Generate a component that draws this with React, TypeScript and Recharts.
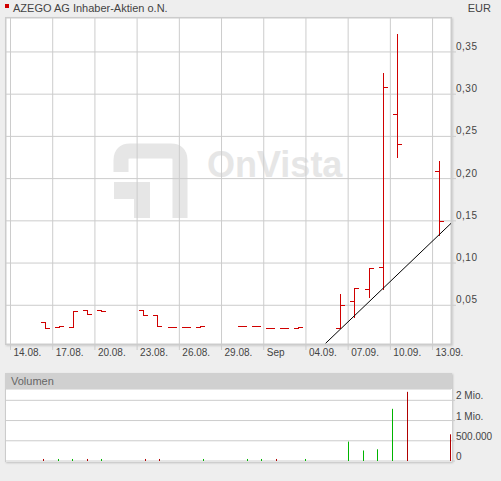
import { ComposedChart, Bar, Line, XAxis, YAxis, CartesianGrid } from 'recharts';

// trading days, counted in calendar days from 14.08.
const DAY_INDEX = [2, 3, 4, 5, 6, 9, 10, 11, 12, 13, 16, 17, 18, 19, 20, 23, 24, 25, 26, 27, 30];
const OPEN = [0.03, 0.024, 0.024, 0.0445, 0.044, 0.044, 0.039, 0.0243, 0.0243, 0.024, 0.0258, 0.0258, 0.0227, 0.0227, 0.0227, 0.0227, 0.0547, 0.0693, 0.095, 0.276, 0.2094];
const HIGH = [0.03, 0.0255, 0.043, 0.0445, 0.044, 0.044, 0.039, 0.0243, 0.0243, 0.0255, 0.0258, 0.0258, 0.0227, 0.0227, 0.0243, 0.0634, 0.07, 0.0938, 0.3247, 0.3713, 0.2205];
const LOW = [0.023, 0.024, 0.024, 0.0395, 0.043, 0.039, 0.025, 0.0243, 0.0243, 0.024, 0.0258, 0.0258, 0.0227, 0.0227, 0.0227, 0.0227, 0.0365, 0.0595, 0.0689, 0.2253, 0.1332];
const CLOSE = [0.023, 0.0255, 0.043, 0.0395, 0.043, 0.039, 0.025, 0.0243, 0.0243, 0.0255, 0.0258, 0.0258, 0.0227, 0.0227, 0.0243, 0.05, 0.07, 0.0938, 0.309, 0.2406, 0.1502];
const VOLUME = [50000, 50000, 50000, 50000, 50000, 50000, 50000, 0, 0, 50000, 50000, 50000, 50000, 0, 50000, 480000, 260000, 290000, 1290000, 1710000, 660000];

const DAY_TICKS = [0, 3, 6, 9, 12, 15, 18, 21, 24, 27, 30];
const DAY_TICK_LABELS = ['14.08.', '17.08.', '20.08.', '23.08.', '26.08.', '29.08.', 'Sep', '04.09.', '07.09.', '10.09.', '13.09.'];
const PRICE_TICKS = [0.05, 0.1, 0.15, 0.2, 0.25, 0.3, 0.35];
const PRICE_LABELS = ['0,05', '0,10', '0,15', '0,20', '0,25', '0,30', '0,35'];
const VOLUME_TICKS = [0, 500000, 1000000, 1500000];
const VOLUME_LABELS = ['0', '500.000', '1 Mio.', '2 Mio.'];

// trend line drawn on the price chart (day, price)
const TREND_DAYS = [22.4, 31.31];
const TREND_PRICES = [0.005, 0.147];

const BAR_OFFSET = 0.45;
const RED = '#d00000';
const FONT = '"Liberation Sans", Arial, sans-serif';

const ohlc = DAY_INDEX.map((d, i) => ({
  pos: d + BAR_OFFSET,
  open: OPEN[i],
  high: HIGH[i],
  low: LOW[i],
  close: CLOSE[i],
  volume: VOLUME[i],
  up: CLOSE[i] >= (i > 0 ? CLOSE[i - 1] : OPEN[i]),
}));

const trend = TREND_DAYS.map((d, i) => ({ pos: d, price: TREND_PRICES[i] }));

function OhlcShape(props: any) {
  const { x, y, width, height, payload } = props;
  const cx = Math.round(x + width / 2);
  const span = payload.high - payload.low;
  const toY = (v: number) => Math.round(span > 0 ? y + ((payload.high - v) / span) * height : y);
  const top = Math.round(y);
  const bottom = Math.round(y + (height || 0));
  const oy = toY(payload.open);
  const cy = toY(payload.close);
  return (
    <g>
      {bottom > top && <rect x={cx} y={top} width={1} height={bottom - top + 1} fill={RED} />}
      <rect x={cx - 4} y={oy} width={4} height={1} fill={RED} />
      <rect x={cx} y={cy} width={5} height={1} fill={RED} />
    </g>
  );
}

function VolumeShape(props: any) {
  const { x, y, width, height, payload } = props;
  if (!height || height <= 0) return null;
  return <rect x={Math.floor(x + width / 2)} y={y} width={1} height={height} fill={payload.up ? '#00b400' : '#b00000'} />;
}

function DayTick({ x, y, payload }: any) {
  const label = DAY_TICK_LABELS[DAY_TICKS.indexOf(payload.value)];
  return (
    <text x={x + 3} y={y + 6} fontSize={10} fill="#444" fontFamily={FONT}>
      {label}
    </text>
  );
}

function PriceTick({ x, y, payload }: any) {
  const label = PRICE_LABELS[PRICE_TICKS.indexOf(payload.value)];
  return (
    <text x={x} y={y - 2} fontSize={10} fill="#444" fontFamily={FONT} letterSpacing={0.5}>
      {label}
    </text>
  );
}

function VolumeTick({ x, y, payload }: any) {
  const label = VOLUME_LABELS[VOLUME_TICKS.indexOf(payload.value)];
  return (
    <text x={x + 1} y={y - 1} fontSize={10} fill="#444" fontFamily={FONT}>
      {label}
    </text>
  );
}

export default function App() {
  return (
    <div style={{ position: 'absolute', left: 0, top: 0, width: 501, height: 481, background: '#eeeeee', overflow: 'hidden', fontFamily: FONT }}>
      {/* panels */}
      <div style={{ position: 'absolute', left: 5, top: 17, width: 447, height: 328, boxSizing: 'border-box', background: '#fff', border: '1px solid #cccccc', boxShadow: '1px 1px 2px rgba(0,0,0,0.15)' }} />
      <div style={{ position: 'absolute', left: 5, top: 373, width: 447, height: 89, boxShadow: '1px 1px 2px rgba(0,0,0,0.2)' }}>
        <div style={{ height: 16, background: '#d0d0d0' }} />
        <div style={{ height: 73, background: '#fff', borderLeft: '1px solid #cccccc', boxSizing: 'border-box' }} />
      </div>

      {/* watermark and texts */}
      <svg width={501} height={481} style={{ position: 'absolute', left: 0, top: 0 }}>
        <path d="M121 172 V160 Q121 151 130 151 H171 Q180 151 180 160 V218" fill="none" stroke="#e6e6e6" strokeWidth={15} />
        <path d="M114 182 H150 V218 H134 V199 H114 Z" fill="#e6e6e6" />
        <text x={207} y={177} fontSize={36} fontWeight="bold" fill="#e6e6e6" fontFamily={FONT}>OnVista</text>
        <rect x={5} y={4} width={4} height={4} fill={RED} />
        <text x={13} y={12} fontSize={11} fill="#444" fontFamily={FONT}>AZEGO AG Inhaber-Aktien o.N.</text>
        <text x={491} y={12} fontSize={11} fill="#444" fontFamily={FONT} textAnchor="end">EUR</text>
        <text x={11} y={385} fontSize={11} fill="#666" fontFamily={FONT}>Volumen</text>
      </svg>

      <div style={{ position: 'absolute', left: 0, top: 0 }}>
        <ComposedChart width={501} height={370} data={ohlc} margin={{ top: 18, right: 0, bottom: 6, left: 6 }}>
          <CartesianGrid stroke="#cccccc" />
          <XAxis
            type="number"
            dataKey="pos"
            domain={[-0.32, 31.31]}
            allowDataOverflow
            ticks={DAY_TICKS}
            interval={0}
            height={20}
            axisLine={false}
            tickLine={{ stroke: '#cccccc' }}
            tickSize={6}
            tickMargin={0}
            tick={<DayTick />}
          />
          <YAxis
            orientation="right"
            width={50}
            domain={[0.00414, 0.3902]}
            allowDataOverflow
            ticks={PRICE_TICKS}
            interval={0}
            axisLine={false}
            tickLine={{ stroke: '#cccccc' }}
            tickSize={5}
            tickMargin={0}
            tick={<PriceTick />}
          />
          <Bar dataKey={(d: any) => [d.low, d.high]} barSize={8} shape={OhlcShape} isAnimationActive={false} />
          <Line data={trend} dataKey="price" type="linear" stroke="#000" strokeWidth={1} dot={false} isAnimationActive={false} />
        </ComposedChart>
      </div>

      <div style={{ position: 'absolute', left: 0, top: 389 }}>
        <ComposedChart width={501} height={80} data={ohlc} margin={{ top: 0, right: 0, bottom: 8, left: 6 }}>
          <CartesianGrid vertical={false} stroke="#cccccc" />
          <XAxis type="number" dataKey="pos" domain={[-0.115, 30.49]} allowDataOverflow hide />
          <YAxis
            orientation="right"
            width={50}
            domain={[0, 1780000]}
            allowDataOverflow
            ticks={VOLUME_TICKS}
            interval={0}
            axisLine={false}
            tickLine={{ stroke: '#cccccc' }}
            tickSize={4}
            tickMargin={0}
            tick={<VolumeTick />}
          />
          <Bar dataKey="volume" barSize={3} shape={VolumeShape} isAnimationActive={false} />
        </ComposedChart>
      </div>
    </div>
  );
}
